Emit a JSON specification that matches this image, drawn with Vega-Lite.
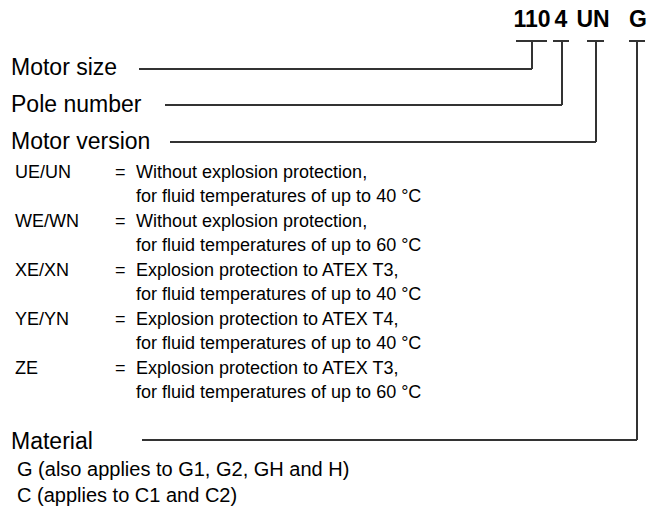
{
  "$schema": "https://vega.github.io/schema/vega-lite/v6.json",
  "autosize": {"type": "fit", "contains": "padding"},
  "width": 654,
  "height": 516,
  "padding": 0,
  "background": "white",
  "config": {"view": {"stroke": null}},
  "datasets": {
    "lines": [
      {"x": 516, "x2": 547, "y": 41, "y2": 41},
      {"x": 532, "x2": 532, "y": 41, "y2": 69},
      {"x": 139, "x2": 532, "y": 69, "y2": 69},
      {"x": 553, "x2": 569, "y": 41, "y2": 41},
      {"x": 562, "x2": 562, "y": 41, "y2": 105},
      {"x": 165, "x2": 562, "y": 105, "y2": 105},
      {"x": 587, "x2": 604, "y": 41, "y2": 41},
      {"x": 596, "x2": 596, "y": 41, "y2": 142},
      {"x": 170, "x2": 596, "y": 142, "y2": 142},
      {"x": 629, "x2": 645, "y": 41, "y2": 41},
      {"x": 637, "x2": 637, "y": 41, "y2": 440},
      {"x": 142, "x2": 637, "y": 440, "y2": 440}
    ],
    "labels": [
      {"g": "code", "t": "110", "x": 532, "y": 27},
      {"g": "code", "t": "4", "x": 561, "y": 27},
      {"g": "code", "t": "UN", "x": 593, "y": 27},
      {"g": "code", "t": "G", "x": 638, "y": 27},
      {"g": "head", "t": "Motor size", "x": 11, "y": 75},
      {"g": "head", "t": "Pole number", "x": 11, "y": 112},
      {"g": "head", "t": "Motor version", "x": 11, "y": 149},
      {"g": "head", "t": "Material", "x": 11, "y": 449},
      {"g": "small", "t": "UE/UN", "x": 15, "y": 177.5},
      {"g": "small", "t": "=", "x": 115, "y": 177.5},
      {"g": "small", "t": "Without explosion protection,", "x": 136, "y": 177.5},
      {"g": "small", "t": "for fluid temperatures of up to 40 °C", "x": 136, "y": 202},
      {"g": "small", "t": "WE/WN", "x": 15, "y": 226.5},
      {"g": "small", "t": "=", "x": 115, "y": 226.5},
      {"g": "small", "t": "Without explosion protection,", "x": 136, "y": 226.5},
      {"g": "small", "t": "for fluid temperatures of up to 60 °C", "x": 136, "y": 251},
      {"g": "small", "t": "XE/XN", "x": 15, "y": 275.5},
      {"g": "small", "t": "=", "x": 115, "y": 275.5},
      {"g": "small", "t": "Explosion protection to ATEX T3,", "x": 136, "y": 275.5},
      {"g": "small", "t": "for fluid temperatures of up to 40 °C", "x": 136, "y": 300},
      {"g": "small", "t": "YE/YN", "x": 15, "y": 324.5},
      {"g": "small", "t": "=", "x": 115, "y": 324.5},
      {"g": "small", "t": "Explosion protection to ATEX T4,", "x": 136, "y": 324.5},
      {"g": "small", "t": "for fluid temperatures of up to 40 °C", "x": 136, "y": 349},
      {"g": "small", "t": "ZE", "x": 15, "y": 373.5},
      {"g": "small", "t": "=", "x": 115, "y": 373.5},
      {"g": "small", "t": "Explosion protection to ATEX T3,", "x": 136, "y": 373.5},
      {"g": "small", "t": "for fluid temperatures of up to 60 °C", "x": 136, "y": 398},
      {"g": "mat", "t": "G (also applies to G1, G2, GH and H)", "x": 17, "y": 476},
      {"g": "mat", "t": "C (applies to C1 and C2)", "x": 17, "y": 502}
    ]
  },
  "layer": [
    {
      "data": {"name": "lines"},
      "mark": {"type": "rule", "stroke": "#333333", "strokeWidth": 2},
      "encoding": {
        "x": {"field": "x", "type": "quantitative", "scale": {"domain": [0, 654], "nice": false, "zero": false}, "axis": null},
        "x2": {"field": "x2"},
        "y": {"field": "y", "type": "quantitative", "scale": {"domain": [0, 516], "reverse": true, "nice": false, "zero": false}, "axis": null},
        "y2": {"field": "y2"}
      }
    },
    {
      "data": {"name": "labels"},
      "transform": [{"filter": "datum.g == 'code'"}],
      "mark": {"type": "text", "font": "Liberation Sans", "fontWeight": "bold", "fontSize": 23, "align": "center", "baseline": "alphabetic", "color": "#000000"},
      "encoding": {
        "x": {"field": "x", "type": "quantitative", "axis": null},
        "y": {"field": "y", "type": "quantitative", "axis": null},
        "text": {"field": "t"}
      }
    },
    {
      "data": {"name": "labels"},
      "transform": [{"filter": "datum.g == 'head'"}],
      "mark": {"type": "text", "font": "Liberation Sans", "fontSize": 23, "align": "left", "baseline": "alphabetic", "color": "#000000"},
      "encoding": {
        "x": {"field": "x", "type": "quantitative", "axis": null},
        "y": {"field": "y", "type": "quantitative", "axis": null},
        "text": {"field": "t"}
      }
    },
    {
      "data": {"name": "labels"},
      "transform": [{"filter": "datum.g == 'small'"}],
      "mark": {"type": "text", "font": "Liberation Sans", "fontSize": 18, "align": "left", "baseline": "alphabetic", "color": "#000000"},
      "encoding": {
        "x": {"field": "x", "type": "quantitative", "axis": null},
        "y": {"field": "y", "type": "quantitative", "axis": null},
        "text": {"field": "t"}
      }
    },
    {
      "data": {"name": "labels"},
      "transform": [{"filter": "datum.g == 'mat'"}],
      "mark": {"type": "text", "font": "Liberation Sans", "fontSize": 20, "align": "left", "baseline": "alphabetic", "color": "#000000"},
      "encoding": {
        "x": {"field": "x", "type": "quantitative", "axis": null},
        "y": {"field": "y", "type": "quantitative", "axis": null},
        "text": {"field": "t"}
      }
    }
  ]
}
